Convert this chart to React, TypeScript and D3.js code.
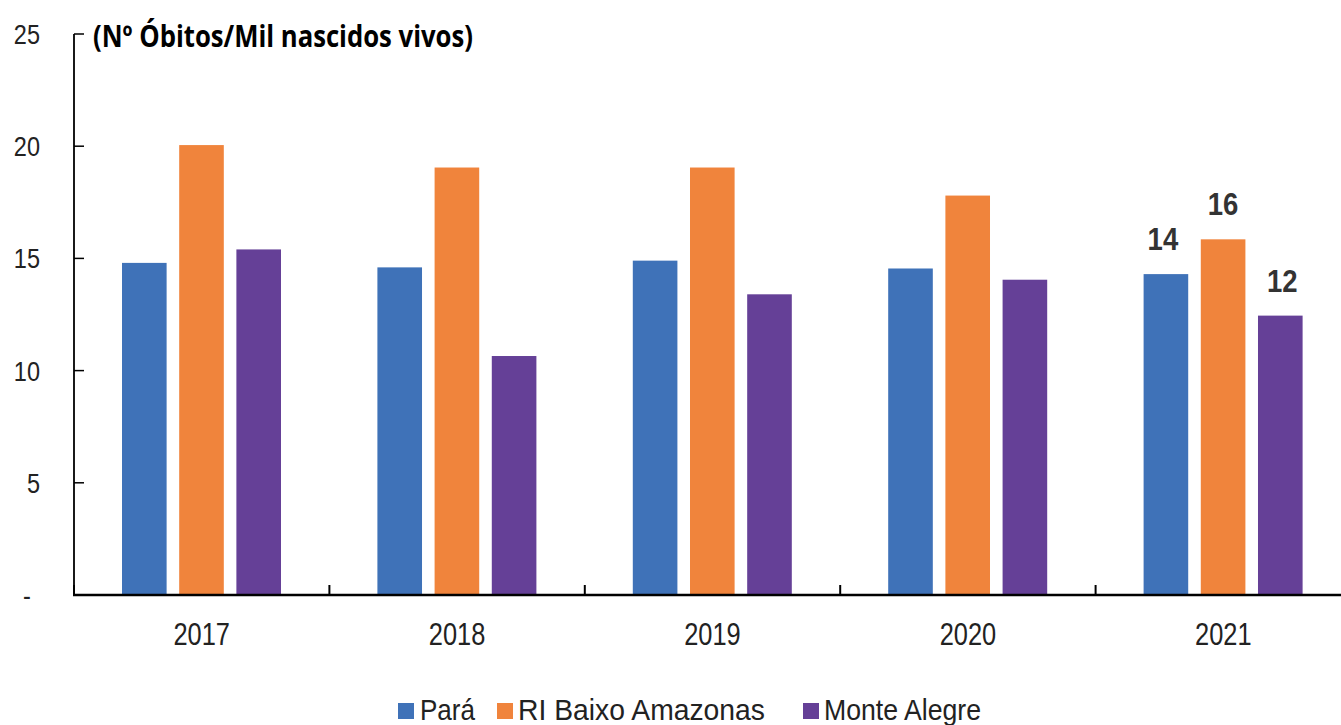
import React from "react";
import * as d3 from "d3";

const years = ["2017", "2018", "2019", "2020", "2021"];
const seriesNames = ["Pará", "RI Baixo Amazonas", "Monte Alegre"];
const para = [14.8, 14.6, 14.9, 14.55, 14.3];
const baixoAmazonas = [20.05, 19.05, 19.05, 17.8, 15.85];
const monteAlegre = [15.4, 10.65, 13.4, 14.05, 12.45];
const colors = ["#3F72B8", "#F0843C", "#654097"];
const yTicks = [0, 5, 10, 15, 20, 25];
const labelYear = "2021";
const labelTexts = ["14", "16", "12"];
const title = "(Nº Óbitos/Mil nascidos vivos)";

const W = 1341;
const H = 725;
const sans = "'Liberation Sans', Arial, sans-serif";

function T(props: {
  x: number;
  y: number;
  sx: number;
  size: number;
  anchor?: string;
  weight?: string;
  fill?: string;
  children: React.ReactNode;
}) {
  return (
    <text
      transform={`translate(${props.x},${props.y}) scale(${props.sx},1)`}
      textAnchor={props.anchor || "start"}
      fontFamily={sans}
      fontSize={props.size}
      fontWeight={props.weight || "normal"}
      fill={props.fill || "#222"}
    >
      {props.children}
    </text>
  );
}

export default function App() {
  const series = [para, baixoAmazonas, monteAlegre];
  const y = d3.scaleLinear().domain([0, 25]).range([595, 34]);
  const x = d3.scaleBand<string>().domain(years).range([74, 74 + 5 * 255.4]).paddingInner(0).paddingOuter(0);
  const inner = d3
    .scaleBand<number>()
    .domain([0, 1, 2])
    .range([48, 207])
    .paddingInner(0.22)
    .paddingOuter(0);

  const legendItems = [
    { sx: 398, tx: 420, len: 55 },
    { sx: 497, tx: 518, len: 247 },
    { sx: 803, tx: 824, len: 157 },
  ];

  return (
    <svg
      width={W}
      height={H}
      style={{ position: "fixed", left: 0, top: 0, background: "#fff" }}
      xmlns="http://www.w3.org/2000/svg"
    >
      <rect width={W} height={H} fill="#fff" />
      {/* bars */}
      {years.map((yr, i) =>
        series.map((s, k) => (
          <rect
            key={yr + k}
            x={(x(yr) as number) + (inner(k) as number)}
            y={y(s[i])}
            width={inner.bandwidth()}
            height={y(0) - y(s[i])}
            fill={colors[k]}
          />
        ))
      )}
      {/* y axis */}
      <line x1={74} x2={74} y1={y(25)} y2={y(0)} stroke="#000" strokeWidth={1.8} />
      {yTicks.map((t) => (
        <g key={t}>
          <line x1={74} x2={84} y1={y(t)} y2={y(t)} stroke="#000" strokeWidth={1.5} />
          <T x={t === 0 ? 27 : 40} y={y(t) + 10} sx={0.84} size={28} anchor={t === 0 ? "middle" : "end"}>
            {t === 0 ? "-" : t}
          </T>
        </g>
      ))}
      {/* x axis */}
      <line x1={73} x2={W} y1={595} y2={595} stroke="#000" strokeWidth={2.6} />
      {years.map((yr) => (
        <g key={yr}>
          <line x1={x(yr) as number} x2={x(yr) as number} y1={595} y2={585} stroke="#000" strokeWidth={2} />
          <T x={(x(yr) as number) + x.bandwidth() / 2} y={645} sx={0.82} size={31} anchor="middle">
            {yr}
          </T>
        </g>
      ))}
      {/* data labels */}
      {series.map((s, k) => {
        const i = years.indexOf(labelYear);
        return (
          <T
            key={"lab" + k}
            x={(x(labelYear) as number) + (inner(k) as number) + inner.bandwidth() / 2 + (k === 0 ? -3 : k === 2 ? 2 : 0)}
            y={y(s[i]) - 24}
            sx={0.86}
            size={32}
            anchor="middle"
            weight="bold"
            fill="#333"
          >
            {labelTexts[k]}
          </T>
        );
      })}
      {/* title */}
      <text
        x={93}
        y={47}
        fontFamily="'Open Sans', sans-serif"
        fontWeight="bold"
        fontSize={30}
        fill="#000"
        textLength={380}
        lengthAdjust="spacingAndGlyphs"
      >
        {title}
      </text>
      {/* legend */}
      {seriesNames.map((n, k) => (
        <g key={n}>
          <rect x={legendItems[k].sx} y={703} width={16} height={16} fill={colors[k]} />
          <text
            x={legendItems[k].tx}
            y={720}
            fontFamily={sans}
            fontSize={29}
            fill="#222"
            textLength={legendItems[k].len}
            lengthAdjust="spacingAndGlyphs"
          >
            {n}
          </text>
        </g>
      ))}
    </svg>
  );
}
